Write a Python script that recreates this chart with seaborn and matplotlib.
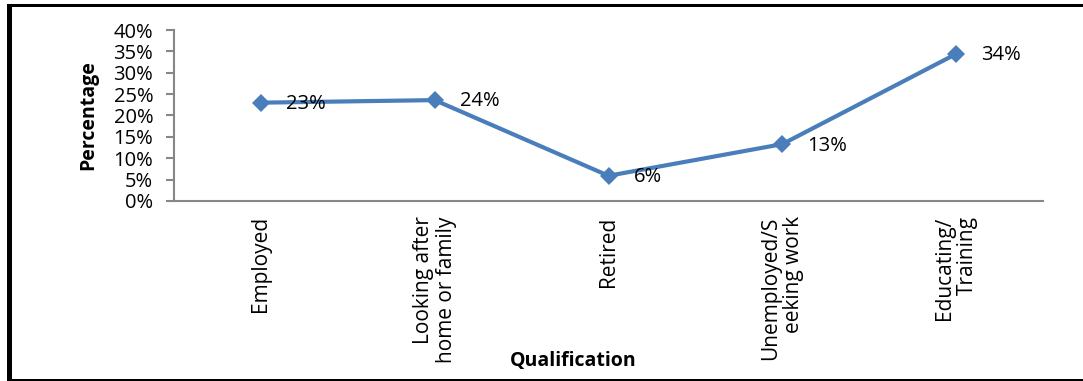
import matplotlib
matplotlib.use("Agg")
import matplotlib.pyplot as plt
from matplotlib.patches import Rectangle
import seaborn as sns
import pandas as pd

# Data
categories = [
    "Employed",
    "Looking after\nhome or family",
    "Retired",
    "Unemployed/S\neeking work",
    "Educating/\nTraining",
]
percentages = [23.0, 23.6, 5.9, 13.3, 34.4]
y_ticks = [0, 5, 10, 15, 20, 25, 30, 35, 40]
y_tick_labels = [f"{t}%" for t in y_ticks]

LINE_BLUE = "#4A7EBB"
AXIS_GREY = "#878787"

sns.set_theme(style="white")
plt.rcParams["font.family"] = ["Open Sans", "DejaVu Sans"]

W, H = 1083, 381
fig = plt.figure(figsize=(W / 100, H / 100), dpi=100, facecolor="white")
ax = fig.add_axes([174 / W, 1 - 201 / H, 869 / W, 171 / H])

df = pd.DataFrame({"category": categories, "percent": percentages})
sns.lineplot(
    data=df, x="category", y="percent", sort=False, ax=ax,
    color=LINE_BLUE, linewidth=3.0, marker="D", markersize=9.5,
    markeredgewidth=0, markerfacecolor=LINE_BLUE,
)

# Value labels to the right of each point
for i, v in enumerate(percentages):
    ax.annotate(f"{round(v)}%", xy=(i, v), xytext=(18, -1),
                textcoords="offset points", ha="left", va="center",
                fontsize=14.5, color="black")

ax.set_xlim(-0.5, len(categories) - 0.5)
ax.set_ylim(0, 40)
ax.set_yticks(y_ticks)
ax.set_yticklabels(y_tick_labels, fontsize=14.5)
ax.set_xticks(range(len(categories)))
ax.set_xticklabels(categories, rotation=90, fontsize=15,
                   linespacing=1.12, multialignment="right")

for side in ("top", "right"):
    ax.spines[side].set_visible(False)
for side in ("left", "bottom"):
    ax.spines[side].set_color(AXIS_GREY)
    ax.spines[side].set_linewidth(1.5)

ax.tick_params(axis="y", left=True, length=6, width=1.5, color=AXIS_GREY,
               pad=9, labelcolor="black")
ax.tick_params(axis="x", bottom=False, length=0, pad=11, labelcolor="black")

ax.set_ylabel("Percentage", fontsize=14, fontweight="bold", color="black")
ax.yaxis.label.set_va("center")
ax.yaxis.set_label_coords(-0.099, 0.5)
ax.set_xlabel("Qualification", fontsize=14, fontweight="bold", color="black")
ax.xaxis.label.set_va("center")
ax.xaxis.set_label_coords(0.459, -0.936)

# Frame around the chart
fig.add_artist(Rectangle((7 / W, 0), 4.7 / W, 1 - 4 / H,
                         transform=fig.transFigure, color="black", lw=0))
fig.add_artist(Rectangle((7 / W, 1 - 6.7 / H), (W - 7) / W, 2.7 / H,
                         transform=fig.transFigure, color="black", lw=0))
fig.add_artist(Rectangle((7 / W, 0), (W - 7) / W, 1.7 / H,
                         transform=fig.transFigure, color="black", lw=0))

fig.savefig("out.png", dpi=100, facecolor="white")
